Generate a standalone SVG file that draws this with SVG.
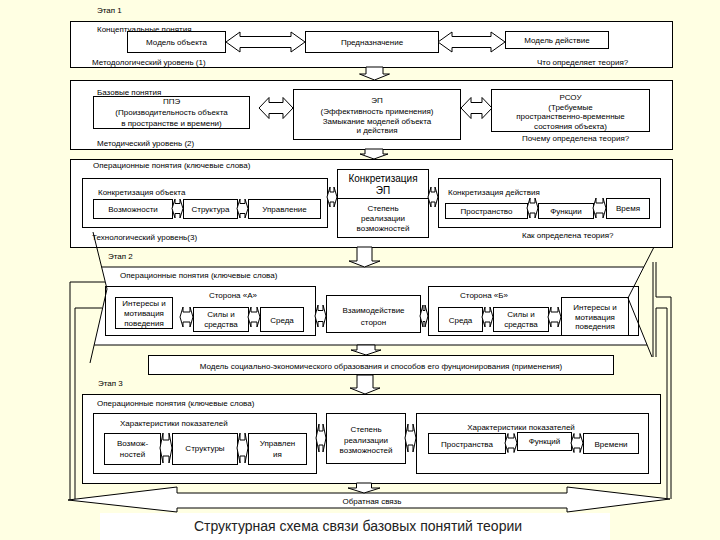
<svg xmlns="http://www.w3.org/2000/svg" width="720" height="540" viewBox="0 0 720 540">
<style>
.box{fill:#fff;stroke:#000;stroke-width:1}
.arr{fill:#fff;stroke:#000;stroke-width:1}
.ln{fill:none;stroke:#000;stroke-width:1}
text{font-family:"Liberation Sans",Arial,"DejaVu Sans",sans-serif;font-size:8px;fill:#000}
.c{text-anchor:middle}
.big{font-size:10px}
.title{font-size:14px;fill:#222}
</style>
<rect x="0" y="0" width="720" height="540" fill="#FFFFE3"/>
<rect x="100" y="513" width="510" height="27" fill="#fff"/>

<!-- Stage 1 -->
<g id="stage1">
<text x="97" y="13">Этап 1</text>
<rect class="box" x="70.5" y="21.5" width="602" height="46"/>
<text x="97" y="32">Концептуальные понятия</text>
<text x="92" y="65">Методологический уровень (1)</text>
<text x="537" y="65">Что определяет теория?</text>
</g>
<g id="model-object"><rect class="box" x="127.5" y="31.5" width="98" height="21"/><text class="c" x="176.5" y="45">Модель объекта</text></g>
<g id="purpose"><rect class="box" x="305.5" y="31.5" width="133" height="21"/><text class="c" x="372" y="45">Предназначение</text></g>
<g id="model-action"><rect class="box" x="505.5" y="31.5" width="103" height="17"/><text class="c" x="557" y="43">Модель действие</text></g>

<g id="level2">
<rect class="box" x="70.5" y="80.5" width="602" height="69"/>
<text x="97" y="95">Базовые понятия</text>
<text x="97" y="146">Методический уровень (2)</text>
<text x="522" y="141">Почему определена теория?</text>
</g>
<g id="ppe"><rect class="box" x="93.5" y="96.5" width="156" height="32"/>
<text class="c" x="171.5" y="104">ППЭ</text><text class="c" x="171.5" y="115">(Производительность объекта</text><text class="c" x="171.5" y="125.5">в пространстве и времени)</text></g>
<g id="ep"><rect class="box" x="293.5" y="89.5" width="167" height="50"/>
<text class="c" x="377" y="103">ЭП</text><text class="c" x="377" y="114">(Эффективность применения)</text><text class="c" x="377" y="123.5">Замыкание моделей объекта</text><text class="c" x="377" y="133">и действия</text></g>
<g id="rsou"><rect class="box" x="491.5" y="89.5" width="158" height="42"/>
<text class="c" x="570.5" y="100">РСОУ</text><text class="c" x="570.5" y="109.5">(Требуемые</text><text class="c" x="570.5" y="119">пространственно-временные</text><text class="c" x="570.5" y="128.5">состояния объекта)</text></g>

<g id="level3">
<rect class="box" x="70.5" y="159.5" width="602" height="88"/>
<text x="93" y="168">Операционные понятия (ключевые слова)</text>
<text x="92" y="240">Технологический уровень(3)</text>
<text x="522" y="238">Как определена теория?</text>
</g>
<g id="obj-spec"><rect class="box" x="82.5" y="178.5" width="245" height="49"/><text x="98" y="195">Конкретизация объекта</text></g>
<g id="abilities"><rect class="box" x="93.5" y="199.5" width="79" height="19"/><text class="c" x="133" y="211.5">Возможности</text></g>
<g id="structure"><rect class="box" x="183.5" y="199.5" width="54" height="19"/><text class="c" x="210.5" y="211.5">Структура</text></g>
<g id="control"><rect class="box" x="248.5" y="199.5" width="72" height="19"/><text class="c" x="284.5" y="211.5">Управление</text></g>
<g id="ep-spec"><rect class="box" x="337.5" y="169.5" width="91" height="68"/><line class="ln" x1="337.5" y1="198.5" x2="428.5" y2="198.5"/>
<text class="c big" x="383" y="182">Конкретизация</text><text class="c big" x="383" y="194">ЭП</text>
<text class="c" x="383" y="211">Степень</text><text class="c" x="383" y="221">реализации</text><text class="c" x="383" y="231">возможностей</text></g>
<g id="act-spec"><rect class="box" x="438.5" y="178.5" width="222" height="49"/><text x="448" y="195">Конкретизация действия</text></g>
<g id="space"><rect class="box" x="445.5" y="203.5" width="82" height="15"/><text class="c" x="486.5" y="213.5">Пространство</text></g>
<g id="functions"><rect class="box" x="538.5" y="203.5" width="55" height="15"/><text class="c" x="566" y="213.5">Функции</text></g>
<g id="time"><rect class="box" x="606.5" y="198.5" width="43" height="20"/><text class="c" x="628" y="211">Время</text></g>

<!-- Stage 2 -->
<g id="stage2">
<polygon points="101.6,267 643.8,267 628,298 647.1,345 94.1,345 107,289" fill="#fff"/>
<text x="108" y="259">Этап 2</text>
<text x="120" y="278">Операционные понятия (ключевые слова)</text>
</g>
<g id="side-a"><rect class="box" x="105.5" y="286.5" width="210" height="49"/><text class="c" x="233" y="298">Сторона «А»</text></g>
<g id="interests-a"><rect class="box" x="115.5" y="297.5" width="57" height="31"/><text class="c" x="144" y="306">Интересы и</text><text class="c" x="144" y="316">мотивация</text><text class="c" x="144" y="325.5">поведения</text></g>
<g id="forces-a"><rect class="box" x="193.5" y="307.5" width="55" height="24"/><text class="c" x="221" y="316.5">Силы и</text><text class="c" x="221" y="326.5">средства</text></g>
<g id="env-a"><rect class="box" x="260.5" y="307.5" width="43" height="24"/><text class="c" x="282" y="322.5">Среда</text></g>
<g id="interaction"><rect class="box" x="326.5" y="295.5" width="94" height="37"/><text class="c" x="373.5" y="313">Взаимодействие</text><text class="c" x="373.5" y="325">сторон</text></g>
<g id="side-b"><rect class="box" x="428.5" y="286.5" width="210" height="49"/><text class="c" x="484" y="298">Сторона «Б»</text></g>
<g id="env-b"><rect class="box" x="438.5" y="307.5" width="44" height="24"/><text class="c" x="460.5" y="322.5">Среда</text></g>
<g id="forces-b"><rect class="box" x="493.5" y="307.5" width="55" height="24"/><text class="c" x="521" y="316.5">Силы и</text><text class="c" x="521" y="326.5">средства</text></g>
<g id="interests-b"><rect class="box" x="561.5" y="297.5" width="67" height="38"/><text class="c" x="595" y="310">Интересы и</text><text class="c" x="595" y="319.5">мотивация</text><text class="c" x="595" y="329">поведения</text></g>
<g id="stage2-frame">
<path class="ln" d="M93,232 L107,289 L90,363 M654,247 L628,298 L652,357 M101.6,267 H643.8 M94.1,345 H647.1"/>
<path class="ln" d="M653,262 V357 M671,499 V297 H656 V262 M667,499 V308 H656 V357 M70,500 V282 H105 M75,499 V308 H102"/>
</g>
<g id="model-soc"><rect class="box" x="148.5" y="355.5" width="465" height="19"/><text class="c" x="381" y="368.5">Модель социально-экономического образования и способов его фунционирования (применения)</text></g>

<!-- Stage 3 -->
<g id="stage3">
<text x="98" y="386">Этап 3</text>
<rect class="box" x="82.5" y="394.5" width="578" height="89"/>
<text x="97" y="406">Операционные понятия (ключевые слова)</text>
</g>
<g id="char-left"><rect class="box" x="93.5" y="413.5" width="223" height="60"/><text x="120" y="426">Характеристики показателей</text></g>
<g id="abil3"><rect class="box" x="104.5" y="433.5" width="56" height="31"/><text class="c" x="132.5" y="446">Возмож-</text><text class="c" x="132.5" y="457">ностей</text></g>
<g id="struct3"><rect class="box" x="172.5" y="433.5" width="65" height="31"/><text class="c" x="205" y="451">Структуры</text></g>
<g id="ctrl3"><rect class="box" x="248.5" y="433.5" width="58" height="31"/><text class="c" x="277.5" y="446">Управлен</text><text class="c" x="277.5" y="457">ия</text></g>
<g id="degree3"><rect class="box" x="326.5" y="413.5" width="79" height="50"/><text class="c" x="366" y="432">Степень</text><text class="c" x="366" y="443">реализации</text><text class="c" x="366" y="453">возможностей</text></g>
<g id="char-right"><rect class="box" x="416.5" y="413.5" width="232" height="60"/><text class="c" x="521" y="430">Характеристики показателей</text></g>
<g id="space3"><rect class="box" x="428.5" y="433.5" width="77" height="20"/><text class="c" x="467" y="447">Пространства</text></g>
<g id="func3"><rect class="box" x="517.5" y="432.5" width="54" height="18"/><text class="c" x="544.5" y="444">Функций</text></g>
<g id="time3"><rect class="box" x="583.5" y="433.5" width="55" height="20"/><text class="c" x="611" y="447">Времени</text></g>

<g id="feedback"><path class="arr" d="M68,500 L177,487 V493 H567 V487 L670,499 L567,512 V508 H177 V512 Z"/><text class="c" x="372" y="503.5">Обратная связь</text></g>

<!-- Connectors -->
<g id="connectors">
<path class="arr" d="M226,42 l14,-10 v4.5 h51 v-4.5 l14,10 l-14,10 v-4.5 h-51 v4.5 z"/>
<path class="arr" d="M438,42 l14,-10 v4.5 h39 v-4.5 l14,10 l-14,10 v-4.5 h-39 v4.5 z"/>
<path class="arr" d="M259,108 l10,-10.5 v5 h14 v-5 l10,10.5 l-10,10.5 v-5 h-14 v5 z"/>
<path class="arr" d="M461,108 l10,-10.5 v5 h11 v-5 l10,10.5 l-10,10.5 v-5 h-11 v5 z"/>
<path class="arr" d="M366,67 h17 V74 h6.5 L374.5,80 L359.5,74 h6.5 z"/>
<path class="arr" d="M365,149 h18 V154 h5 L374,159 L360,154 h5 z"/>
<path class="arr" d="M357,247 h15 V261 h8 L364.5,267 L349,261 h8 z"/>
<path class="arr" d="M357,345 h18 V350 h6 L366,355 L351,350 h6 z"/>
<path class="arr" d="M357,375 h16 V388 h7 L365,394 L350,388 h7 z"/>
<path class="arr" d="M356.5,483 h15 V488 h8.5 L364,493 L348,488 h8.5 z"/>
<path class="arr" d="M172,208.5 l3,-9.5 v4.5 h5 v-4.5 l3,9.5 l-3,9.5 v-4.5 h-5 v4.5 z"/>
<path class="arr" d="M237,208.5 l3,-9.5 v4.5 h5 v-4.5 l3,9.5 l-3,9.5 v-4.5 h-5 v4.5 z"/>
<path class="arr" d="M327,197 l3,-10 v5 h4 v-5 l3,10 l-3,10 v-5 h-4 v5 z"/>
<path class="arr" d="M428,197 l3,-10 v5 h4 v-5 l3,10 l-3,10 v-5 h-4 v5 z"/>
<path class="arr" d="M527,208 l3,-10 v5 h5 v-5 l3,10 l-3,10 v-5 h-5 v5 z"/>
<path class="arr" d="M593,208 l3,-10 v5 h7 v-5 l3,10 l-3,10 v-5 h-7 v5 z"/>
<path class="arr" d="M180,317 l3,-10 v5 h7 v-5 l3,10 l-3,10 v-5 h-7 v5 z"/>
<path class="arr" d="M248,317 l3,-10 v5 h6 v-5 l3,10 l-3,10 v-5 h-6 v5 z"/>
<path class="arr" d="M315,316 l3,-11 v5.5 h5 v-5.5 l3,11 l-3,11 v-5.5 h-5 v5.5 z"/>
<path class="arr" d="M420,316 l3,-11 v5.5 h2 v-5.5 l3,11 l-3,11 v-5.5 h-2 v5.5 z"/>
<path class="arr" d="M482,317 l3,-10 v5 h5 v-5 l3,10 l-3,10 v-5 h-5 v5 z"/>
<path class="arr" d="M548,317 l3,-10 v5 h7 v-5 l3,10 l-3,10 v-5 h-7 v5 z"/>
<path class="arr" d="M160,448 l3,-15 v7 h6 v-7 l3,15 l-3,15 v-7 h-6 v7 z"/>
<path class="arr" d="M237,448 l3,-15 v7 h5 v-7 l3,15 l-3,15 v-7 h-5 v7 z"/>
<path class="arr" d="M316,438 l3,-14 v7 h4 v-7 l3,14 l-3,14 v-7 h-4 v7 z"/>
<path class="arr" d="M405,438 l3,-14 v7 h5 v-7 l3,14 l-3,14 v-7 h-5 v7 z"/>
<path class="arr" d="M505,443 l3,-9.5 v4.5 h6 v-4.5 l3,9.5 l-3,9.5 v-4.5 h-6 v4.5 z"/>
<path class="arr" d="M571,443 l3,-9.5 v4.5 h6 v-4.5 l3,9.5 l-3,9.5 v-4.5 h-6 v4.5 z"/>
</g>

<text class="c title" x="358" y="531">Структурная схема связи базовых понятий теории</text>
</svg>
